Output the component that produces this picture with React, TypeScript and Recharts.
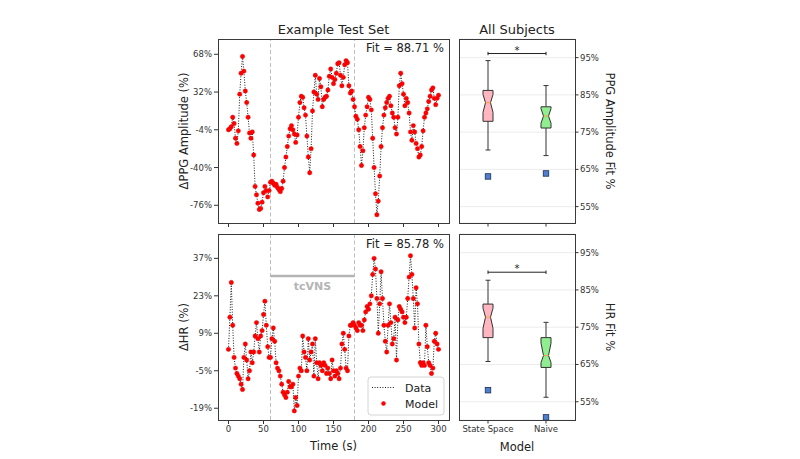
import React from 'react';
import { ComposedChart, Line, Bar, XAxis, YAxis, CartesianGrid, ReferenceLine } from 'recharts';

// Time axis of the example test set (s)
const timeSec = [
  0, 2, 4, 6, 8, 10, 12, 14, 16, 18,
  20, 22, 24, 26, 28, 30, 32, 34, 36, 38,
  40, 42, 44, 46, 48, 50, 52, 54, 56, 58,
  60, 62, 64, 66, 68, 70, 72, 74, 76, 78,
  80, 82, 84, 86, 88, 90, 92, 94, 96, 98,
  100, 102, 104, 106, 108, 110, 112, 114, 116, 118,
  120, 122, 124, 126, 128, 130, 132, 134, 136, 138,
  140, 142, 144, 146, 148, 150, 152, 154, 156, 158,
  160, 162, 164, 166, 168, 170, 172, 174, 176, 178,
  180, 182, 184, 186, 188, 190, 192, 194, 196, 198,
  200, 202, 204, 206, 208, 210, 212, 214, 216, 218,
  220, 222, 224, 226, 228, 230, 232, 234, 236, 238,
  240, 242, 244, 246, 248, 250, 252, 254, 256, 258,
  260, 262, 264, 266, 268, 270, 272, 274, 276, 278,
  280, 282, 284, 286, 288, 290, 292, 294, 296, 298,
  300,
];

// ΔPPG amplitude (%) - measured data, model tracks it closely
const ppgData = [
  -4, -3, -1, 8, 2, -12, -17, -5, 30, 50,
  66, 52, 33, 22, 8, -7, -12, -6, -28, -58,
  -66, -74, -80, -79, -73, -64, -58, -62, -68, -62,
  -54, -53, -55, -57, -56, -59, -61, -63, -60, -53,
  -40, -30, -20, -10, -3, 0, -4, -8, -16, -9,
  8, 22, 28, 27, 17, 10, -10, -30, -45, -22,
  14, 32, 48, 30, 25, 45, 37, 18, 25, 27,
  28, 34, 47, 54, 46, 40, 44, 50, 59, 60,
  48, 38, 46, 58, 62, 60, 38, 31, 33, 25,
  18, 9, 6, -4, -20, -38, -24, -2, 10, 18,
  27, 25, 15, -12, -40, -65, -85, -72, -48, -20,
  -2, 10, 17, 22, 26, 28, 19, 12, 8, -2,
  -8, 8, 38, 50, 40, 30, 19, 26, 22, 12,
  -6, -14, 0, -6, -17, -22, -30, -28, -20, -5,
  8, 12, 16, 23, 28, 34, 36, 26, 20, 26,
  29,
];

// ΔHR (%)
const hrData = [
  3, 15, 28, 12, 0, -4, -6, -7, -8, -10,
  -12, 0, 5, -1, -8, -5, 2, -2, 2, 8,
  13, 7, 2, 8, 10, 16, 21, 12, 4, 0,
  0, 7, 11, 6, -2, -4, -5, -7, -10, -13,
  -14, -15, -13, -9, -11, -11, -10, -20, -15, -18,
  -7, -4, -5, 8, 2, 0, -5, 7, -1, 2,
  5, -7, 7, -2, -8, -2, -3, -5, -2, -3,
  -6, -4, -6, -8, -1, -5, -7, -5, -6, -8,
  -4, 5, 9, 3, -4, -5, 8, 12, 12, 13,
  12, 11, 10, 13, 12, 12, 10, 14, 17, 19,
  18, 20, 23, 31, 37, 33, 22, 9, 20, 32,
  22, 12, 6, 2, 12, 20, 13, 5, 7, 15,
  -1, 14, 19, 18, 17, 15, 13, 15, 22, 30,
  38, 31, 22, 11, 26, 20, 5, -2, -3, -2,
  -3, 12, 4, -2, -3, -6, -4, 6, 9, 5,
  3,
];

const timeTicks = [0, 50, 100, 150, 200, 250, 300];
const ppgTicks = [68, 32, -4, -40, -76];
const hrTicks = [37, 23, 9, -5, -19];
const fitTicks = [55, 65, 75, 85, 95];
const stimOn = 60;
const stimOff = 180;
const stimLevel = 30.4;

// All subjects, fit % per model
const models = ['State Space', 'Naive'];
const ppgFitLow = [70.2, 68.7];
const ppgFitQ1 = [77.9, 76.1];
const ppgFitNotchLow = [80.3, 77.4];
const ppgFitMedian = [82.9, 79.3];
const ppgFitNotchHigh = [85.1, 81.3];
const ppgFitQ3 = [86.2, 81.8];
const ppgFitHigh = [94.2, 87.5];
const ppgFitOutlier = [63.1, 63.9];

const hrFitLow = [65.8, 56.2];
const hrFitQ1 = [72.2, 64.2];
const hrFitNotchLow = [74.7, 65.5];
const hrFitMedian = [77.7, 67.4];
const hrFitNotchHigh = [80.1, 70.7];
const hrFitQ3 = [81.2, 72.2];
const hrFitHigh = [87.6, 76.3];
const hrFitOutlier = [58.1, 50.8];

const ppgSigLevel = 96.1;
const hrSigLevel = 89.75;

const FONT = '"DejaVu Sans", sans-serif';
const boxColors = ['#ffb6c1', '#90ee90'];
const tickStyle = { fontSize: 8.5, fill: '#333', fontFamily: FONT };

const ppgRows = timeSec.map((t, i) => ({ t, data: ppgData[i], model: ppgData[i] }));
const hrRows = timeSec.map((t, i) => ({ t, data: hrData[i], model: hrData[i] }));

const boxRows = (lo: number[], q1: number[], nl: number[], med: number[], nh: number[], q3: number[], hi: number[], out: number[]) =>
  models.map((name, i) => ({
    name,
    range: [lo[i], hi[i]],
    q1: q1[i],
    notchLow: nl[i],
    median: med[i],
    notchHigh: nh[i],
    q3: q3[i],
    outlier: out[i],
  }));

const ppgBoxRows = boxRows(ppgFitLow, ppgFitQ1, ppgFitNotchLow, ppgFitMedian, ppgFitNotchHigh, ppgFitQ3, ppgFitHigh, ppgFitOutlier);
const hrBoxRows = boxRows(hrFitLow, hrFitQ1, hrFitNotchLow, hrFitMedian, hrFitNotchHigh, hrFitQ3, hrFitHigh, hrFitOutlier);

type Plot = { x: number; y: number; w: number; h: number };
const plotTL: Plot = { x: 218, y: 39, w: 231, h: 184 };
const plotBL: Plot = { x: 218, y: 234, w: 231, h: 186 };
const plotTR: Plot = { x: 459, y: 39, w: 116, h: 184 };
const plotBR: Plot = { x: 459, y: 234, w: 116, h: 186 };

// notched box + whiskers + flier, drawn from the bar's whisker range
const BoxShape = (props: any) => {
  const { x, y, width, height, payload, index } = props;
  const [lo, hi] = payload.range;
  const top = Math.min(y, y + height);
  const span = Math.abs(height);
  const pix = (v: number) => top + ((hi - v) / (hi - lo)) * span;
  const cx = x + width / 2;
  const x0 = x;
  const x1 = x + width;
  const n0 = cx - width / 4;
  const n1 = cx + width / 4;
  const yQ3 = pix(payload.q3);
  const yQ1 = pix(payload.q1);
  const yMed = pix(payload.median);
  const yNh = pix(payload.notchHigh);
  const yNl = pix(payload.notchLow);
  const yOut = pix(payload.outlier);
  const pts = [
    [x0, yQ3], [x1, yQ3], [x1, yNh], [n1, yMed], [x1, yNl],
    [x1, yQ1], [x0, yQ1], [x0, yNl], [n0, yMed], [x0, yNh],
  ].map((p) => p.join(',')).join(' ');
  const edge = '#333';
  return (
    <g>
      <line x1={cx} x2={cx} y1={pix(hi)} y2={yQ3} stroke={edge} strokeWidth={1} />
      <line x1={cx} x2={cx} y1={yQ1} y2={pix(lo)} stroke={edge} strokeWidth={1} />
      <line x1={n0} x2={n1} y1={pix(hi)} y2={pix(hi)} stroke={edge} strokeWidth={1} />
      <line x1={n0} x2={n1} y1={pix(lo)} y2={pix(lo)} stroke={edge} strokeWidth={1} />
      <polygon points={pts} fill={boxColors[index]} stroke={edge} strokeWidth={1} />
      <line x1={n0} x2={n1} y1={yMed} y2={yMed} stroke="#f5a040" strokeWidth={1} />
      <rect x={cx - 2.75} y={yOut - 2.75} width={5.5} height={5.5} fill="#4f7fd1" stroke="#1c2c4c" strokeWidth={0.8} />
    </g>
  );
};

const TimePanel = ({ plot, rows, yDomain, yTicks, showXLabels, stim }: any) => {
  const yAxisW = 60;
  const mTop = 5;
  const mRight = 5;
  const xAxisH = 25;
  return (
    <div style={{ position: 'absolute', left: plot.x - yAxisW, top: plot.y - mTop }}>
      <ComposedChart
        width={yAxisW + plot.w + mRight}
        height={mTop + plot.h + xAxisH}
        data={rows}
        margin={{ top: mTop, right: mRight, bottom: 0, left: 0 }}
      >
        <XAxis
          dataKey="t"
          type="number"
          domain={[-15, 315]}
          ticks={timeTicks}
          allowDataOverflow
          axisLine={false}
          tickLine={{ stroke: '#333' }}
          tickSize={4}
          tickMargin={2}
          height={xAxisH}
          tick={tickStyle}
          tickFormatter={(v: number) => (showXLabels ? String(v) : '')}
        />
        <YAxis
          type="number"
          domain={yDomain}
          ticks={yTicks}
          allowDataOverflow
          axisLine={false}
          tickLine={{ stroke: '#333' }}
          width={yAxisW}
          tickSize={4}
          tickMargin={2}
          tick={tickStyle}
          tickFormatter={(v: number) => `${v}%`}
        />
        <ReferenceLine x={stimOn} stroke="#bdbdbd" strokeDasharray="4 2.5" />
        <ReferenceLine x={stimOff} stroke="#bdbdbd" strokeDasharray="4 2.5" />
        {stim && (
          <ReferenceLine
            segment={[{ x: stimOn, y: stimLevel }, { x: stimOff, y: stimLevel }]}
            stroke="#b4b4b4"
            strokeWidth={2.5}
            label={{ value: 'tcVNS', position: 'bottom', offset: 6, fill: '#b4b4b4', fontSize: 11, fontWeight: 'bold', fontFamily: FONT }}
          />
        )}
        <Line dataKey="data" name="Data" type="linear" stroke="#1a1a1a" strokeWidth={1} strokeDasharray="1 1.6" dot={false} activeDot={false} isAnimationActive={false} />
        <Line dataKey="model" name="Model" type="linear" stroke="none" dot={{ r: 2.2, fill: '#ff0000', stroke: '#e00000', strokeWidth: 0.4 }} activeDot={false} isAnimationActive={false} />
      </ComposedChart>
    </div>
  );
};

const BoxPanel = ({ plot, rows, yDomain, sigLevel, showXLabels }: any) => {
  const mLeft = 5;
  const mTop = 5;
  const mRight = 5;
  const yAxisW = 40;
  const xAxisH = 25;
  return (
    <div style={{ position: 'absolute', left: plot.x - mLeft, top: plot.y - mTop }}>
      <ComposedChart
        width={mLeft + plot.w + yAxisW + mRight}
        height={mTop + plot.h + xAxisH}
        data={rows}
        margin={{ top: mTop, right: mRight, bottom: 0, left: mLeft }}
      >
        <CartesianGrid vertical={false} stroke="#ececec" />
        <XAxis
          dataKey="name"
          type="category"
          axisLine={false}
          tickLine={{ stroke: '#333' }}
          tickSize={3.5}
          tickMargin={2}
          height={xAxisH}
          tick={tickStyle}
          tickFormatter={(v: string) => (showXLabels ? v : '')}
        />
        <YAxis
          orientation="right"
          type="number"
          domain={yDomain}
          ticks={fitTicks}
          allowDataOverflow
          axisLine={false}
          tickLine={{ stroke: '#333' }}
          width={yAxisW}
          tickSize={3.5}
          tickMargin={1.5}
          tick={tickStyle}
          tickFormatter={(v: number) => `${v}%`}
        />
        <Bar dataKey="range" barSize={10} shape={BoxShape} isAnimationActive={false} />
        <ReferenceLine
          segment={[{ x: models[0], y: sigLevel }, { x: models[1], y: sigLevel }]}
          stroke="#222"
          strokeWidth={1}
          label={{ value: '*', position: 'top', offset: 0, fill: '#222', fontSize: 10, fontFamily: FONT }}
        />
        <ReferenceLine segment={[{ x: models[0], y: sigLevel - 0.45 }, { x: models[0], y: sigLevel + 0.45 }]} stroke="#222" />
        <ReferenceLine segment={[{ x: models[1], y: sigLevel - 0.45 }, { x: models[1], y: sigLevel + 0.45 }]} stroke="#222" />
      </ComposedChart>
    </div>
  );
};

const frame = (p: Plot, key: string) => (
  <rect key={key} x={p.x + 0.5} y={p.y + 0.5} width={p.w} height={p.h} fill="none" stroke="#3a3a3a" strokeWidth={1} />
);

export default function App() {
  const txt = { fontFamily: FONT, fill: '#222' };
  return (
    <div style={{ position: 'absolute', left: 0, top: 0, width: 800, height: 459, background: '#fff', overflow: 'hidden' }}>
      <TimePanel plot={plotTL} rows={ppgRows} yDomain={[-92.9, 82.6]} yTicks={ppgTicks} showXLabels={false} stim={false} />
      <TimePanel plot={plotBL} rows={hrRows} yDomain={[-23.4, 46.1]} yTicks={hrTicks} showXLabels stim />
      <BoxPanel plot={plotTR} rows={ppgBoxRows} yDomain={[50.6, 100]} sigLevel={ppgSigLevel} showXLabels={false} />
      <BoxPanel plot={plotBR} rows={hrBoxRows} yDomain={[50.1, 100]} sigLevel={hrSigLevel} showXLabels />
      <svg width={800} height={459} style={{ position: 'absolute', left: 0, top: 0, pointerEvents: 'none' }}>
        {frame(plotTL, 'tl')}
        {frame(plotBL, 'bl')}
        {frame(plotTR, 'tr')}
        {frame(plotBR, 'br')}
        <text x={333.5} y={34} textAnchor="middle" fontSize={13} {...txt}>Example Test Set</text>
        <text x={517} y={34} textAnchor="middle" fontSize={13} {...txt}>All Subjects</text>
        <text x={444} y={52} textAnchor="end" fontSize={11.5} {...txt}>Fit = 88.71 %</text>
        <text x={444} y={247.5} textAnchor="end" fontSize={11.5} {...txt}>Fit = 85.78 %</text>
        <text x={183.5} y={131} textAnchor="middle" dominantBaseline="central" fontSize={11.5} transform="rotate(-90 183.5 131)" {...txt}>ΔPPG Amplitude (%)</text>
        <text x={183.5} y={327} textAnchor="middle" dominantBaseline="central" fontSize={11.5} transform="rotate(-90 183.5 327)" {...txt}>ΔHR (%)</text>
        <text x={333.5} y={446} textAnchor="middle" dominantBaseline="central" fontSize={11.5} {...txt}>Time (s)</text>
        <text x={517} y={446.5} textAnchor="middle" dominantBaseline="central" fontSize={11.5} {...txt}>Model</text>
        <text x={610} y={131} textAnchor="middle" dominantBaseline="central" fontSize={11.5} transform="rotate(90 610 131)" {...txt}>PPG Amplitude Fit %</text>
        <text x={610} y={327} textAnchor="middle" dominantBaseline="central" fontSize={11.5} transform="rotate(90 610 327)" {...txt}>HR Fit %</text>
        <g>
          <rect x={368} y={377} width={76} height={38} rx={3} fill="#fff" fillOpacity={0.85} stroke="#d4d4d4" strokeWidth={1} />
          <line x1={372} x2={395} y1={387.5} y2={387.5} stroke="#1a1a1a" strokeWidth={1} strokeDasharray="1 1.6" />
          <text x={405} y={391.5} fontSize={11} {...txt}>Data</text>
          <circle cx={383.5} cy={403.5} r={2.2} fill="#ff0000" />
          <text x={405} y={407.5} fontSize={11} {...txt}>Model</text>
        </g>
      </svg>
    </div>
  );
}
